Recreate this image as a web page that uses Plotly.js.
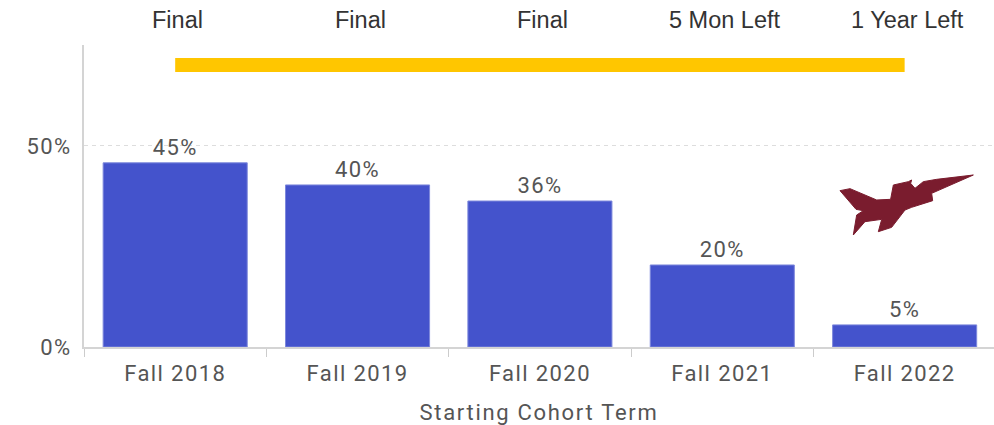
<!DOCTYPE html>
<html>
<head>
<meta charset="utf-8">
<script src="https://cdn.plot.ly/plotly-3.0.1.min.js"></script>
<style>html,body{margin:0;padding:0;background:#fff;overflow:hidden}#c{width:994px;height:425px}
.xtick text,.ytick text,text.bartext{letter-spacing:1.4px}.g-xtitle text{letter-spacing:1.7px}</style>
</head>
<body>
<div id="c"></div>
<script>
var categories = ['Fall 2018','Fall 2019','Fall 2020','Fall 2021','Fall 2022'];
var barValues = [45.8, 40.3, 36.3, 20.4, 5.5];
var barLabels = ['45%','40%','36%','20%','5%'];
var statusLabels = ['Final','Final','Final','5 Mon Left','1 Year Left'];
var spanX = ['Fall 2018','Fall 2022'];
var spanY = [70.1, 70.1];
var yTicks = [0, 50];
var yTickLabels = ['0%','50%'];
var jetOutline = [[180,122],[210,116],[290,150],[332,148],[340,105],[385,95],[395,90],[392,100],[405,115],[430,95],[470,88],[580,75],[455,130],[458,152],[395,172],[375,180],[335,232],[295,245],[305,208],[255,215],[220,255],[230,195],[250,182],[228,178]];

var W = 994, H = 425;
var M = {l:84, r:0, t:45, b:78};
function jetPath(){
  var pw = W-M.l-M.r, ph = H-M.t-M.b;
  return 'M' + jetOutline.map(function(p){
    var px = 780 + p[0]/3, py = 150 + p[1]/3;
    return ((px-M.l)/pw).toFixed(4) + ',' + (1-(py-M.t)/ph).toFixed(4);
  }).join('L') + 'Z';
}
var numFont = 'Roboto, sans-serif';
var data = [
  {type:'bar', x:categories, y:barValues, text:barLabels, textposition:'outside', cliponaxis:false, width:0.79,
   marker:{color:'#4453cc', line:{color:'#7d88dc', width:1}},
   textfont:{family:numFont, size:22, color:'#555555'}, hoverinfo:'skip'},
  {type:'scatter', mode:'lines', x:spanX, y:spanY, line:{color:'#ffc600', width:14}, hoverinfo:'skip'}
];
var layout = {
  width:W, height:H, margin:M, showlegend:false, paper_bgcolor:'#fff', plot_bgcolor:'#fff',
  xaxis:{type:'category', categoryorder:'array', categoryarray:categories, range:[-0.5,4.49], tickson:'boundaries',
    ticks:'outside', ticklen:8, tickwidth:1, tickcolor:'#cccccc', showline:true, linecolor:'#d4d4d4', linewidth:2, showgrid:false,
    ticklabelstandoff:6,
    tickfont:{family:numFont, size:22, color:'#555555'},
    title:{text:'Starting Cohort Term', font:{family:numFont, size:22, color:'#555555'}, standoff:20}},
  yaxis:{range:[0,75.1], tickmode:'array', tickvals:yTicks, ticktext:yTickLabels, showline:true, linecolor:'#d4d4d4', linewidth:2,
    ticks:'', ticklabelstandoff:6, showgrid:true, gridcolor:'#dddddd', griddash:'4px,4px', gridwidth:1, zeroline:false,
    tickfont:{family:numFont, size:22, color:'#555555'}},
  annotations: categories.map(function(c,i){
    return {x:c, y:1.083, xref:'x', yref:'paper', text:statusLabels[i], showarrow:false, xanchor:'center', yanchor:'middle', xshift:2.5,
      font:{family:'Liberation Sans, Arial, sans-serif', size:23.5, color:'#333333'}};
  }),
  shapes:[{type:'path', xref:'paper', yref:'paper', path:jetPath(), fillcolor:'#7a1c2e', line:{width:1, color:'#7a1c2e'}, layer:'above'}]
};
Plotly.newPlot('c', data, layout, {displayModeBar:false, staticPlot:true});
</script>
</body>
</html>
